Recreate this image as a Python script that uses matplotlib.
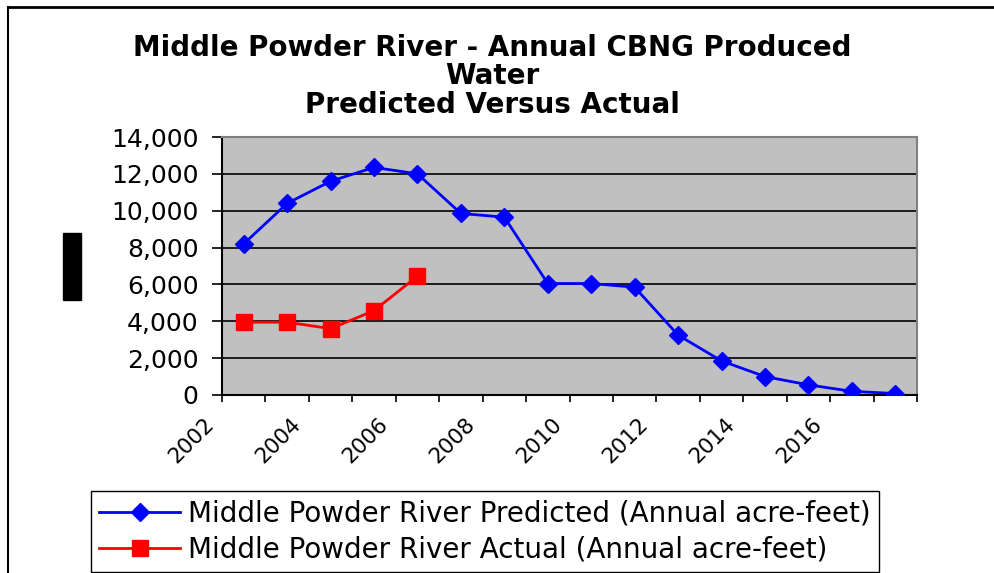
import matplotlib.pyplot as plt
from matplotlib.lines import Line2D
from matplotlib.patches import Rectangle
from matplotlib.ticker import FuncFormatter
from matplotlib.transforms import ScaledTranslation

# Dati
years = [2002, 2003, 2004, 2005, 2006, 2007, 2008, 2009, 2010, 2011, 2012, 2013, 2014, 2015, 2016, 2017]
predicted = [8200, 10400, 11600, 12350, 12000, 9850, 9650, 6050, 6050, 5850, 3250, 1850, 1000, 550, 200, 80]
actual_years = [2002, 2003, 2004, 2005, 2006]
actual = [3950, 3950, 3600, 4580, 6450]
yticks = [0, 2000, 4000, 6000, 8000, 10000, 12000, 14000]
title_lines = ['Middle Powder River - Annual CBNG Produced', 'Water', 'Predicted Versus Actual']

plt.rcParams['font.family'] = ['DejaVu Sans']

fig = plt.figure(figsize=(9.95, 5.73), dpi=100)
ax = fig.add_axes([222 / 995, 1 - 395 / 573, 695 / 995, 258 / 573])
ax.set_facecolor('#C0C0C0')

x_pred = [years.index(y) for y in years]
x_act = [years.index(y) for y in actual_years]

ax.plot(x_pred, predicted, color='#0000FF', lw=2, marker='D', ms=9.5,
        label='Middle Powder River Predicted (Annual acre-feet)', zorder=3)
ax.plot(x_act, actual, color='#FF0000', lw=2, marker='s', ms=11,
        label='Middle Powder River Actual (Annual acre-feet)', zorder=3)

# Asse Y
ax.set_ylim(0, 14000)
ax.set_yticks(yticks)
ax.yaxis.set_major_formatter(FuncFormatter(lambda v, p: f'{int(v):,}'))
ax.grid(axis='y', color='black', lw=1.2)
ax.set_axisbelow(True)
ax.tick_params(axis='y', length=7, width=1.2, labelsize=18, pad=10)

# Asse X: tacche tra le categorie, etichette ogni due anni
ax.set_xticks([i - 0.5 for i in range(len(years) + 1)], minor=True)
ax.set_xticks(x_pred[::2])
ax.set_xticklabels([str(y) for y in years[::2]], rotation=45, ha='right',
                   va='top', rotation_mode='anchor', fontsize=15.5)
ax.set_xlim(-0.5, len(years) - 0.5)
ax.tick_params(axis='x', which='major', length=0, pad=14)
ax.tick_params(axis='x', which='minor', length=5, width=1.2)

# sposta le etichette a sinistra come in Excel
offset = ScaledTranslation(-0.40, 0, fig.dpi_scale_trans)
for lab in ax.get_xticklabels():
    lab.set_transform(lab.get_transform() + offset)

for s in ['top', 'right']:
    ax.spines[s].set_color('#808080')
    ax.spines[s].set_linewidth(1.5)
for s in ['left', 'bottom']:
    ax.spines[s].set_color('black')
    ax.spines[s].set_linewidth(1.5)

# Titolo, una riga alla volta
for k, line in enumerate(title_lines):
    fig.text(0.495, 1 - (56 + 28.5 * k) / 573, line, ha='center', va='baseline',
             fontsize=20, fontweight='bold')

# Legenda
fig.legend(loc='upper left', bbox_to_anchor=(91 / 995, 1 - 491 / 573),
           fontsize=20, frameon=True, fancybox=False, edgecolor='black',
           framealpha=1, handlelength=2.9, labelspacing=0.3, borderaxespad=0,
           borderpad=0.3, handletextpad=0.3)

# Bordo e rettangolo nero
fig.add_artist(Line2D([8 / 995, 993 / 995], [1 - 7 / 573, 1 - 7 / 573],
                      transform=fig.transFigure, color='black', lw=2))
fig.add_artist(Line2D([8 / 995, 8 / 995], [1 - 7 / 573, 0],
                      transform=fig.transFigure, color='black', lw=1.5))
fig.add_artist(Rectangle((63 / 995, 1 - 300 / 573), 18 / 995, 67 / 573,
                         transform=fig.transFigure, color='black'))

fig.savefig('out.png', dpi=100)
